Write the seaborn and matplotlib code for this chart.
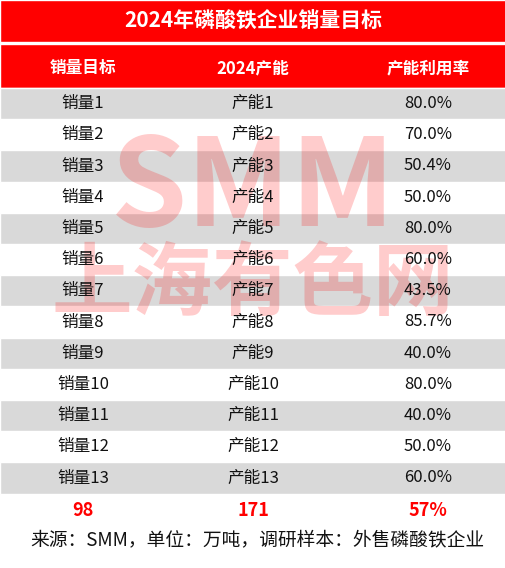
import matplotlib
matplotlib.use("Agg")
import matplotlib.pyplot as plt
import seaborn as sns

sns.set_theme(style="white")
plt.rcParams['font.family'] = ['Noto Sans CJK SC', 'DejaVu Sans']

# ─── Data ─────────────────────────────────────────────────────────────────────
title = "2024年磷酸铁企业销量目标"
headers = ["销量目标", "2024产能", "产能利用率"]
sales = [f"销量{i}" for i in range(1, 14)]
capacity = [f"产能{i}" for i in range(1, 14)]
utilization = ["80.0%", "70.0%", "50.4%", "50.0%", "80.0%", "60.0%", "43.5%",
               "85.7%", "40.0%", "80.0%", "40.0%", "50.0%", "60.0%"]
totals = ["98", "171", "57%"]
source = "来源：SMM，单位：万吨，调研样本：外售磷酸铁企业"

RED = "#ff0000"
GRAY = "#d9d9d9"
col_x = [83, 253, 428]

fig = plt.figure(figsize=(5.06, 5.68), dpi=100)
ax = fig.add_axes([0, 0, 1, 1])
ax.set_xlim(0, 506)
ax.set_ylim(568, 0)
ax.axis("off")

# title + header bands
ax.barh([21, 66], [506, 506], height=[42, 44], left=0, color=RED)
ax.plot([0, 506], [43, 43], color="white", lw=1)

row_h = 31.2
y0 = 88
row_y = [y0 + row_h * (i + 0.5) for i in range(len(sales))]
stripe_y = [y for i, y in enumerate(row_y) if i % 2 == 0]
ax.barh(stripe_y, [506] * len(stripe_y), height=row_h, left=0, color=GRAY)

# watermark
ax.text(253, 190, "SMM", ha="center", va="center", fontsize=88,
        fontweight="bold", color=RED, alpha=0.2)
ax.text(253, 285, "上海有色网", ha="center", va="center", fontsize=58,
        fontweight="bold", color=RED, alpha=0.2)

ax.text(253, 21, title, ha="center", va="center", fontsize=15,
        fontweight="bold", color="white")
for x, h in zip(col_x, headers):
    ax.text(x, 68, h, ha="center", va="center", fontsize=12,
            fontweight="bold", color="white")

for y, a, b, c in zip(row_y, sales, capacity, utilization):
    for x, t in zip(col_x, (a, b, c)):
        ax.text(x, y, t, ha="center", va="center", fontsize=12, color="#111111")

for x, t in zip(col_x, totals):
    ax.text(x, 510, t, ha="center", va="center", fontsize=13,
            fontweight="bold", color=RED)

ax.text(30, 540, source, ha="left", va="center", fontsize=13.5, color="#111111")

fig.savefig("out.png", dpi=100)
